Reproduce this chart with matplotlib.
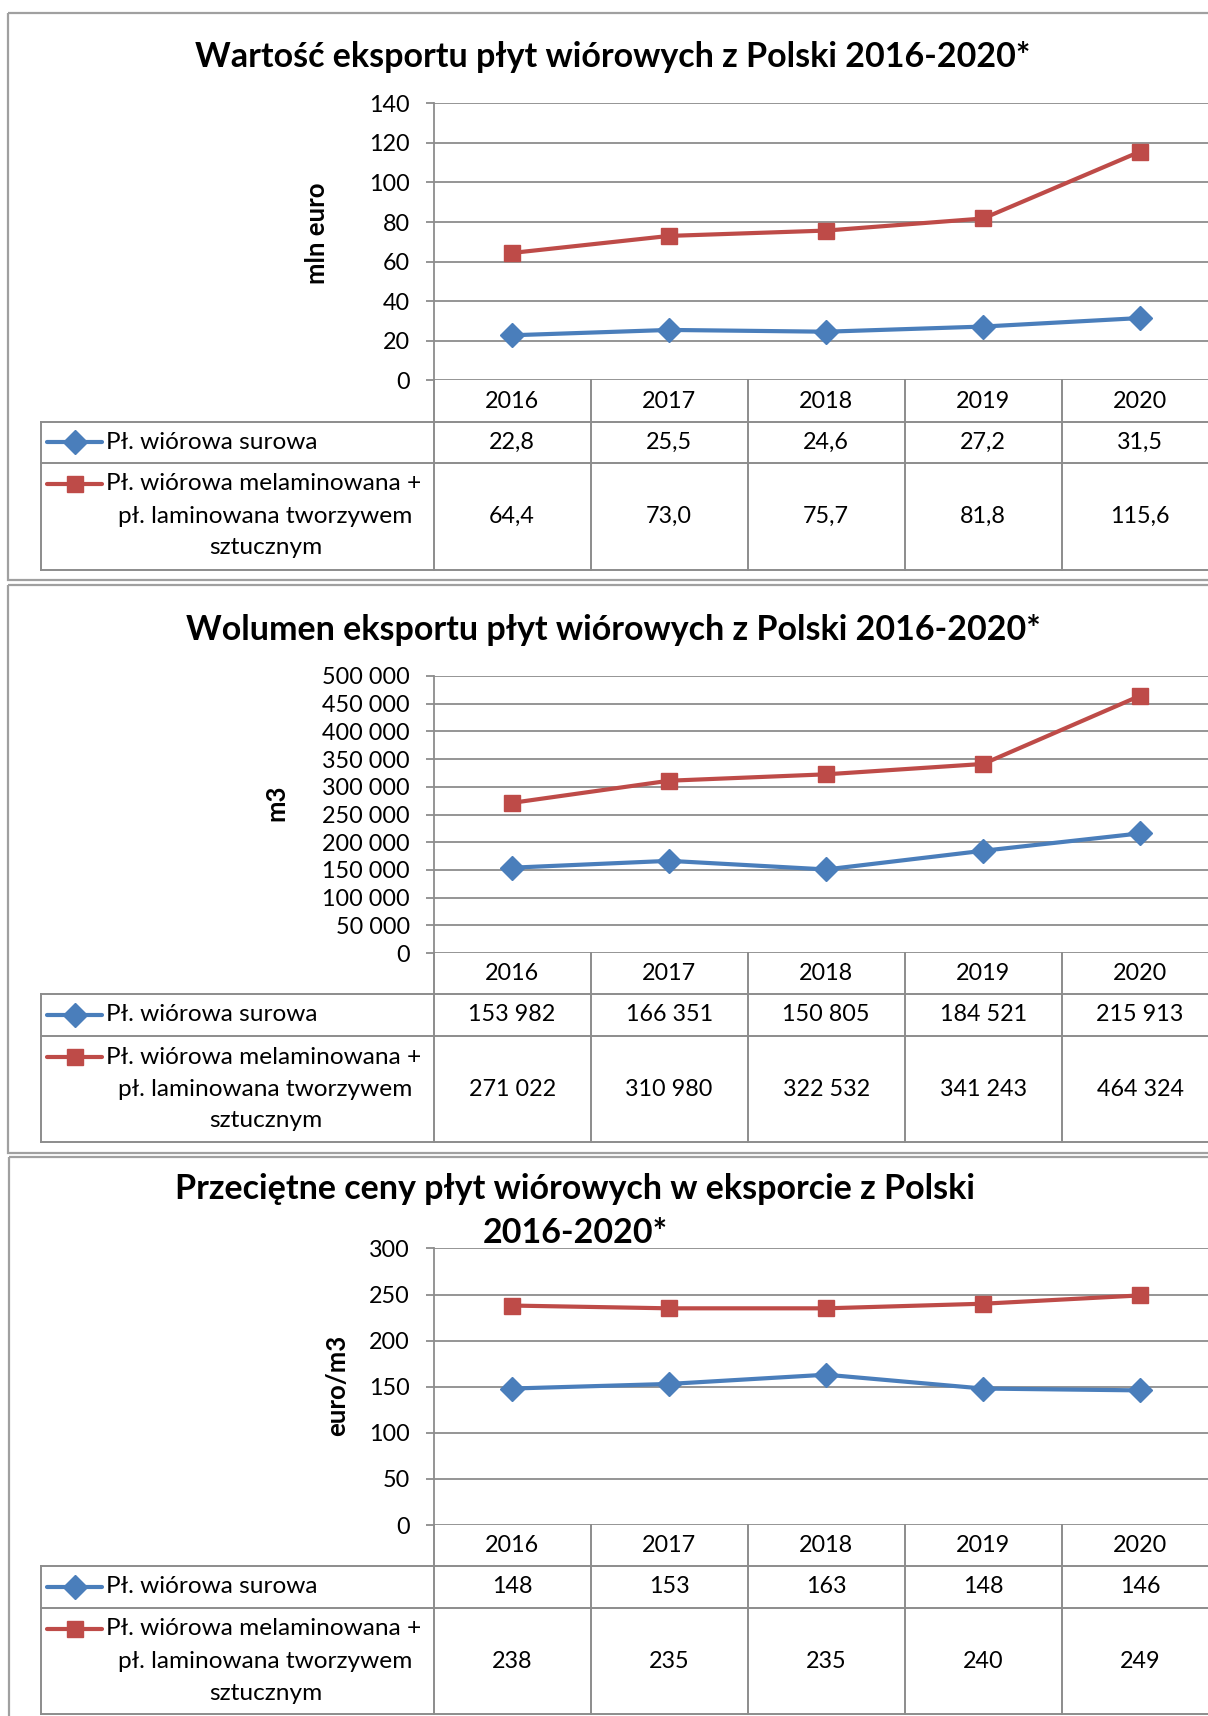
"""
plot.py

- Three stacked Excel-style line charts with data tables underneath
- Export of particle boards from Poland 2016-2020 (value, volume, price)
- Saves out.png
"""

import matplotlib
matplotlib.use("Agg")
import matplotlib.pyplot as plt
from matplotlib.patches import Rectangle
from matplotlib.ticker import FuncFormatter

# ---------------------------
# Data
# ---------------------------
years = ["2016", "2017", "2018", "2019", "2020"]

series_labels = ["Pł. wiórowa surowa",
                 "Pł. wiórowa melaminowana +\npł. laminowana tworzywem\nsztucznym"]

value_raw = [22.8, 25.5, 24.6, 27.2, 31.5]
value_mel = [64.4, 73.0, 75.7, 81.8, 115.6]

volume_raw = [153982, 166351, 150805, 184521, 215913]
volume_mel = [271022, 310980, 322532, 341243, 464324]

price_raw = [148, 153, 163, 148, 146]
price_mel = [238, 235, 235, 240, 249]

titles = ["Wartość eksportu płyt wiórowych z Polski 2016-2020*",
          "Wolumen eksportu płyt wiórowych z Polski 2016-2020*",
          "Przeciętne ceny płyt wiórowych w eksporcie z Polski\n2016-2020*"]
y_labels = ["mln euro", "m3", "euro/m3"]

# ---------------------------
# Style / layout (pixels of the 1208x1716 canvas)
# ---------------------------
W, H = 1208, 1716
BLUE = "#4A7EBB"
RED = "#BE4B48"
GRID = "#8c8c8c"
BORDER = "#a0a0a0"
FONT = "Lato"

TITLE_SIZE = 24.5
YLAB_SIZE = 18.5
TICK_SIZE = 16.8
NUM_SIZE = 16.8
LABEL_SIZE = 17.6

plt.rcParams["font.family"] = [FONT, "DejaVu Sans"]

COL_LEFT = 433.6
COL_W = 157.0
TABLE_LEFT = 41.0


def fmt_comma1(v):
    return f"{v:.1f}".replace(".", ",")


def fmt_space(v):
    return f"{int(round(v)):,}".replace(",", " ")


panels = [
    dict(top=12.6, bottom=580.0, border_x=8.4, plot_top=103.3, plot_bot=380.4,
         row1_top=421.7, row1_bot=463.0, tab_bot=569.5,
         title_y=[57.4], title_x=613, ylab_x=317, ylab_y=233.5,
         ymax=140, ystep=20, raw=value_raw, mel=value_mel,
         tick_fmt=lambda v, p: f"{int(v)}", cell_fmt=fmt_comma1,
         mel_lines=[484.0, 516.6, 548.0]),
    dict(top=585.0, bottom=1152.7, border_x=8.4, plot_top=676.0, plot_bot=953.0,
         row1_top=994.0, row1_bot=1035.8, tab_bot=1142.0,
         title_y=[630.0], title_x=613, ylab_x=276, ylab_y=802.7,
         ymax=500000, ystep=50000, raw=volume_raw, mel=volume_mel,
         tick_fmt=lambda v, p: fmt_space(v), cell_fmt=fmt_space,
         mel_lines=[1057.0, 1089.0, 1120.5]),
    dict(top=1157.3, bottom=1730.0, border_x=9.0, plot_top=1248.4, plot_bot=1525.0,
         row1_top=1566.0, row1_bot=1607.7, tab_bot=1713.8,
         title_y=[1189.0, 1233.0], title_x=575, ylab_x=337, ylab_y=1385.0,
         ymax=300, ystep=50, raw=price_raw, mel=price_mel,
         tick_fmt=lambda v, p: f"{int(v)}", cell_fmt=lambda v: f"{int(v)}",
         mel_lines=[1628.6, 1661.7, 1693.0]),
]


def main():
    fig = plt.figure(figsize=(W / 100, H / 100), dpi=100)
    fig.patch.set_facecolor("white")

    # background canvas in pixel coordinates (borders, table, texts)
    bg = fig.add_axes([0, 0, 1, 1], zorder=0)
    bg.set_xlim(0, W)
    bg.set_ylim(H, 0)
    bg.axis("off")

    n = len(years)
    x_right = COL_LEFT + COL_W * n

    for i, p in enumerate(panels):
        # panel frame
        bg.add_patch(Rectangle((p["border_x"], p["top"]), W + 40, p["bottom"] - p["top"],
                               fill=False, edgecolor=BORDER, lw=1.6))

        # title
        for k, line in enumerate(titles[i].split("\n")):
            bg.text(p["title_x"], p["title_y"][k], line, ha="center", va="center",
                    fontsize=TITLE_SIZE, fontweight="bold", color="black")

        # y axis label
        bg.text(p["ylab_x"], p["ylab_y"], y_labels[i], rotation=90, ha="center",
                va="center", fontsize=YLAB_SIZE, fontweight="bold")

        # plot area
        ax = fig.add_axes([COL_LEFT / W, 1 - p["plot_bot"] / H,
                           (x_right - COL_LEFT) / W, (p["plot_bot"] - p["plot_top"]) / H],
                          zorder=2)
        ax.set_facecolor("none")
        xs = list(range(n))
        ax.plot(xs, p["raw"], color=BLUE, lw=3.0, marker="D", ms=12,
                solid_capstyle="round", clip_on=False, zorder=4)
        ax.plot(xs, p["mel"], color=RED, lw=3.0, marker="s", ms=11,
                solid_capstyle="round", clip_on=False, zorder=4)
        ax.set_xlim(-0.5, n - 0.5)
        ax.set_ylim(0, p["ymax"])
        ax.set_yticks(range(0, p["ymax"] + 1, p["ystep"]))
        ax.yaxis.set_major_formatter(FuncFormatter(p["tick_fmt"]))
        ax.set_xticks([])
        for s in ["top", "right", "bottom"]:
            ax.spines[s].set_visible(False)
        ax.spines["left"].set_color(GRID)
        ax.spines["left"].set_linewidth(1.3)
        ax.grid(axis="y", color=GRID, lw=1.3)
        ax.set_axisbelow(True)
        ax.tick_params(axis="y", direction="out", length=6, width=1.3, color=GRID,
                       pad=11, labelsize=TICK_SIZE)
        for lab in ax.get_yticklabels():
            lab.set_fontfamily(FONT)

        # ---- data table ----
        ln = dict(color=GRID, lw=1.4)
        # vertical lines
        bg.plot([COL_LEFT, COL_LEFT], [p["plot_bot"], p["tab_bot"]], **ln)
        for k in range(1, n + 1):
            x = COL_LEFT + COL_W * k
            bg.plot([x, x], [p["plot_bot"], p["tab_bot"]], **ln)
        bg.plot([TABLE_LEFT, TABLE_LEFT], [p["row1_top"], p["tab_bot"]], **ln)
        # horizontal lines
        for y in [p["row1_top"], p["row1_bot"], p["tab_bot"]]:
            bg.plot([TABLE_LEFT, W + 20], [y, y], **ln)

        cat_y = (p["plot_bot"] + p["row1_top"]) / 2
        row1_y = (p["row1_top"] + p["row1_bot"]) / 2
        row2_y = p["mel_lines"][1]
        for k in range(n):
            cx = COL_LEFT + COL_W * (k + 0.5)
            bg.text(cx, cat_y, years[k], ha="center", va="center", fontsize=NUM_SIZE)
            bg.text(cx, row1_y, p["cell_fmt"](p["raw"][k]), ha="center", va="center",
                    fontsize=NUM_SIZE)
            bg.text(cx, row2_y, p["cell_fmt"](p["mel"][k]), ha="center", va="center",
                    fontsize=NUM_SIZE)

        # legend keys + row labels
        bg.plot([47, 102], [row1_y, row1_y], color=BLUE, lw=3.0, solid_capstyle="round")
        bg.plot([74.5], [row1_y], color=BLUE, marker="D", ms=12)
        bg.text(106, row1_y, series_labels[0], ha="left", va="center", fontsize=LABEL_SIZE)

        y1 = p["mel_lines"][0]
        bg.plot([47, 102], [y1, y1], color=RED, lw=3.0, solid_capstyle="round")
        bg.plot([74.5], [y1], color=RED, marker="s", ms=11)
        mel_parts = series_labels[1].split("\n")
        bg.text(106, y1, mel_parts[0], ha="left", va="center", fontsize=LABEL_SIZE)
        for k in (1, 2):
            bg.text(265.6, p["mel_lines"][k], mel_parts[k], ha="center", va="center",
                    fontsize=LABEL_SIZE)

    fig.savefig("out.png", dpi=100)
    plt.close(fig)


if __name__ == "__main__":
    main()
